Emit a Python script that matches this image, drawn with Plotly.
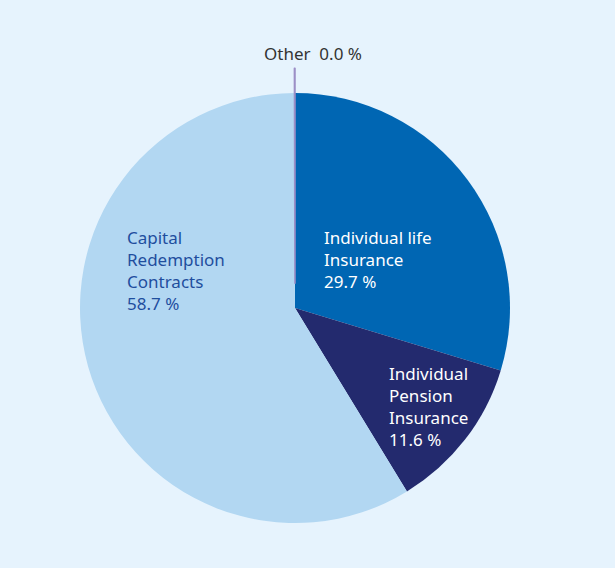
import plotly.graph_objects as go

# Data
labels = ["Individual life Insurance", "Individual Pension Insurance", "Capital Redemption Contracts", "Other"]
label_lines = [["Individual life", "Insurance"], ["Individual", "Pension", "Insurance"],
               ["Capital", "Redemption", "Contracts"], ["Other"]]
values = [29.7, 11.6, 58.7, 0.04]
shown_pct = ["29.7 %", "11.6 %", "58.7 %", "0.0 %"]

colors = ["#0066b3", "#232a6e", "#b2d7f2", "#9c8fc6"]
text_colors = ["#ffffff", "#ffffff", "#1f4e9e", "#333333"]
line_widths = [0, 0, 0, 1.6]
pulls = [0, 0, 0, 0.115]

BG = "#e6f3fd"
FONT = "Noto Sans"
FS = 17
W, H = 615, 568
cx, cy, r = 295, 308, 215
half = r * (1 + max(pulls))

fig = go.Figure(go.Pie(
    labels=labels, values=values, sort=False, direction="clockwise", rotation=0,
    marker=dict(colors=colors, line=dict(color=colors, width=line_widths)),
    pull=pulls, textinfo="none", hoverinfo="label+percent", showlegend=False,
    domain=dict(x=[(cx - half) / W, (cx + half) / W],
                y=[(H - cy - half) / H, (H - cy + half) / H]),
))

# label positions (paper px: left x, top y)
label_pos = [(322, 224), (387, 360), (125, 224)]
annotations = []
for i in range(3):
    x, y = label_pos[i]
    txt = "<br>".join(label_lines[i] + [shown_pct[i]])
    annotations.append(dict(x=x / W, y=1 - y / H, xref="paper", yref="paper",
                            xanchor="left", yanchor="top", align="left", showarrow=False,
                            text=txt, font=dict(color=text_colors[i], size=FS, family=FONT)))
annotations.append(dict(x=313 / W, y=1 - 53 / H, xref="paper", yref="paper",
                        xanchor="center", yanchor="middle", showarrow=False,
                        text=label_lines[3][0] + "  " + shown_pct[3],
                        font=dict(color=text_colors[3], size=FS, family=FONT)))

fig.update_layout(width=W, height=H, margin=dict(l=0, r=0, t=0, b=0),
                  paper_bgcolor=BG, plot_bgcolor=BG, annotations=annotations)
fig.write_html("out.html", config={"displayModeBar": False},
               post_script="document.body.style.margin='0';document.body.style.background='" + BG + "';")
